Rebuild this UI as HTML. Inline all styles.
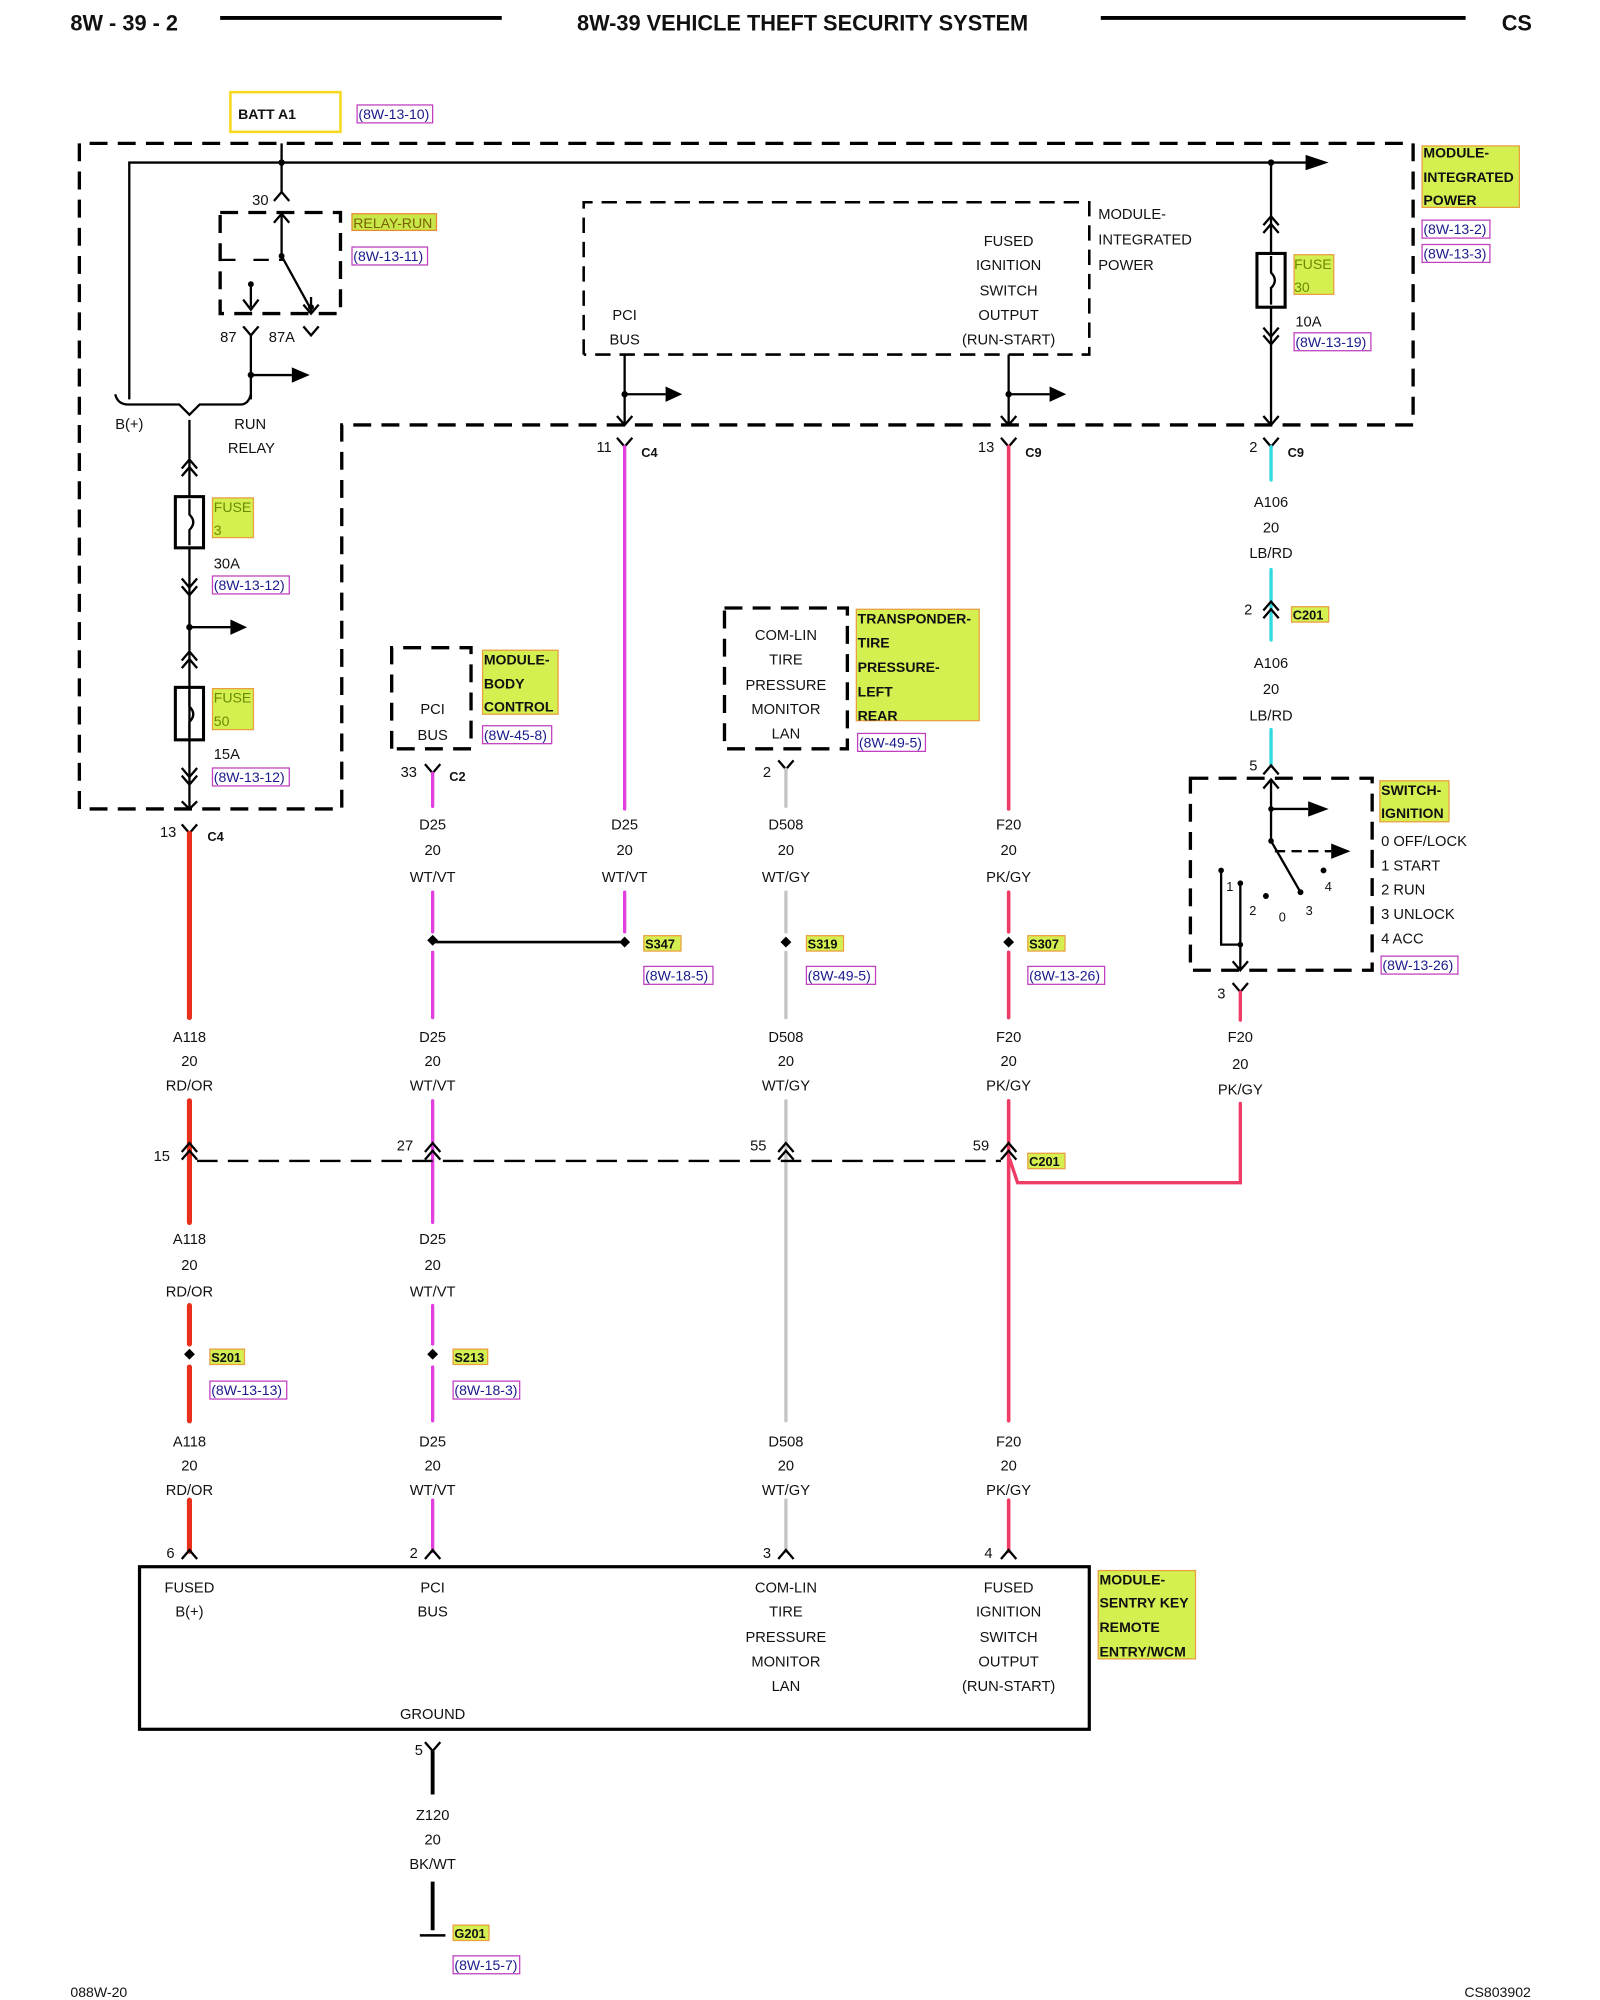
<!DOCTYPE html>
<html><head><meta charset="utf-8"><style>
html,body{margin:0;padding:0;background:#fff}
svg{display:block}
text{font-family:"Liberation Sans",sans-serif;font-size:11.5px;fill:#111}
.c{text-anchor:middle}
.b{font-weight:bold}
.ref{fill:#1a1a8c;font-size:11px}
.lab{font-weight:bold;font-size:11px}
.fl{fill:#6a8a00;font-size:11px}
</style></head><body>
<svg width="1600" height="2000" viewBox="0 0 1250 1562.5" xmlns="http://www.w3.org/2000/svg">
<text x="55" y="24" class="b" style="font-size:17px">8W - 39 - 2</text>
<line x1="172" y1="14" x2="392" y2="14" stroke="#000" stroke-width="3"/>
<text x="627" y="24" class="b c" style="font-size:17px">8W-39 VEHICLE THEFT SECURITY SYSTEM</text>
<line x1="860" y1="14" x2="1145" y2="14" stroke="#000" stroke-width="3"/>
<text x="1185" y="24" class="b c" style="font-size:17px">CS</text>

<rect x="180" y="72" width="86" height="31" fill="none" stroke="#f5d820" stroke-width="2"/>
<text x="186" y="93" class="b" style="font-size:11px">BATT A1</text>
<rect x="279" y="82" width="59" height="14" fill="none" stroke="#c040c0"/><text x="280" y="93" class="ref">(8W-13-10)</text>

<g fill="none" stroke="#000">
<path d="M62,632 V112 H1104 V332 H267 V632 Z" stroke-width="2.6" stroke-dasharray="14,8"/>
<path d="M456,277 V158 H851 V277 H456" stroke-width="2" stroke-dasharray="12,7"/>
<rect x="172" y="166" width="94" height="79" stroke-width="2.6" stroke-dasharray="14,8"/>
<path d="M220,112 V150 M101,312 V127 H1022" stroke-width="1.8"/>
</g>
<polygon points="1020,121 1038,127 1020,133" fill="#000"/>
<circle cx="220" cy="127" r="2.5"/><circle cx="993" cy="127" r="2.5"/>

<g fill="none" stroke="#000" stroke-width="1.8">
<path d="M214,157 L220,150 L226,157"/>
<path d="M220,166 V200 L242,240"/>
<path d="M214,174 L220,167 L226,174"/>
<path d="M172,203 H186 M198,203 H222" stroke-dasharray="12,8"/>
<path d="M196,222 V240 M190,234 L196,242 L202,234"/>
<path d="M243,232 V245 M237,238 L243,245 L249,238"/>
<path d="M190,255 L196,262 L202,255 M196,262 V312"/>
<path d="M237,255 L243,262 L249,255"/>
<path d="M196,293 H228"/>
<path d="M90,308 Q92,316 100,316 H140 L148,324 L156,316 H188 Q194,316 196,308"/>
<path d="M148,328 V388 M148,428 V632"/>
<path d="M142,366 L148,359 L154,366 M142,372 L148,365 L154,372"/>
<rect x="137" y="388" width="22" height="40" stroke-width="2.4"/>
<path d="M148,390 V402 Q154,408 148,414 V426"/>
<path d="M142,452 L148,459 L154,452 M142,458 L148,465 L154,458"/>
<path d="M148,490 H180"/>
<path d="M142,516 L148,509 L154,516 M142,522 L148,515 L154,522"/>
<rect x="137" y="537" width="22" height="41" stroke-width="2.4"/>
<path d="M148,539 V552 Q154,558 148,564 V576"/>
<path d="M142,600 L148,607 L154,600 M142,606 L148,613 L154,606"/>
<path d="M142,626 L148,632 L154,626"/>
<path d="M488,277 V332 M488,308 H520 M482,325 L488,332 L494,325"/>
<path d="M788,277 V332 M788,308 H820 M782,325 L788,332 L794,325"/>
<path d="M993,127 V198 M993,240 V332"/>
<path d="M987,176 L993,169 L999,176 M987,182 L993,175 L999,182"/>
<rect x="982" y="198" width="22" height="42" stroke-width="2.4"/>
<path d="M993,200 V213 Q999,219 993,225 V238"/>
<path d="M987,256 L993,263 L999,256 M987,262 L993,269 L999,262"/>
<path d="M987,325 L993,332 L999,325"/>
</g>
<polygon points="228,287 242,293 228,299" fill="#000"/>
<polygon points="180,484 193,490 180,496" fill="#000"/>
<polygon points="520,302 533,308 520,314" fill="#000"/>
<polygon points="820,302 833,308 820,314" fill="#000"/>
<circle cx="196" cy="293" r="2.5"/><circle cx="148" cy="490" r="2.5"/>
<circle cx="488" cy="308" r="2.5"/><circle cx="788" cy="308" r="2.5"/>
<circle cx="220" cy="200" r="2.3"/><circle cx="243" cy="240" r="2.3"/><circle cx="196" cy="222" r="2.3"/>

<rect x="275" y="167" width="66" height="13" fill="#c8e84a" stroke="#e88a30"/><text x="276" y="178" class="fl" style="fill:#7a6000">RELAY-RUN</text>
<rect x="275" y="193" width="59" height="14" fill="none" stroke="#c040c0"/><text x="276" y="204" class="ref">(8W-13-11)</text>
<text x="197" y="160">30</text>
<text x="172" y="267">87</text><text x="210" y="267">87A</text>
<text x="90" y="335">B(+)</text><text x="183" y="335">RUN</text><text x="178" y="354">RELAY</text>
<rect x="166" y="389" width="32" height="31" fill="#d4f050" stroke="#e8a040"/><text x="167" y="400" class="fl">FUSE</text><text x="167" y="418" class="fl">3</text>
<text x="167" y="444">30A</text>
<rect x="166" y="450" width="60" height="14" fill="none" stroke="#c040c0"/><text x="167" y="461" class="ref">(8W-13-12)</text>
<rect x="166" y="538" width="32" height="32" fill="#d4f050" stroke="#e8a040"/><text x="167" y="549" class="fl">FUSE</text><text x="167" y="567" class="fl">50</text>
<text x="167" y="593">15A</text>
<rect x="166" y="600" width="60" height="14" fill="none" stroke="#c040c0"/><text x="167" y="611" class="ref">(8W-13-12)</text>

<text x="488" y="250" class="c">PCI</text><text x="488" y="269" class="c">BUS</text>
<text x="788" y="192" class="c">FUSED</text><text x="788" y="211" class="c">IGNITION</text><text x="788" y="231" class="c">SWITCH</text><text x="788" y="250" class="c">OUTPUT</text><text x="788" y="269" class="c">(RUN-START)</text>
<text x="858" y="171">MODULE-</text><text x="858" y="191">INTEGRATED</text><text x="858" y="211">POWER</text>
<rect x="1011" y="199" width="31" height="31" fill="#d4f050" stroke="#e8a040"/><text x="1011" y="210" class="fl">FUSE</text><text x="1011" y="228" class="fl">30</text>
<text x="1012" y="255">10A</text>
<rect x="1011" y="260" width="60" height="14" fill="none" stroke="#c040c0"/><text x="1012" y="271" class="ref">(8W-13-19)</text>
<rect x="1111" y="114" width="76" height="48" fill="#d4f050" stroke="#e8a040"/>
<text x="1112" y="123" class="lab">MODULE-</text><text x="1112" y="142" class="lab">INTEGRATED</text><text x="1112" y="160" class="lab">POWER</text>
<rect x="1111" y="172" width="53" height="14" fill="none" stroke="#c040c0"/><text x="1112" y="183" class="ref">(8W-13-2)</text>
<rect x="1111" y="191" width="53" height="14" fill="none" stroke="#c040c0"/><text x="1112" y="202" class="ref">(8W-13-3)</text>

<g fill="none" stroke="#000" stroke-width="1.8">
<path d="M142,644 L148,651 L154,644 M482,342 L488,349 L494,342 M782,342 L788,349 L794,342 M987,342 L993,349 L999,342"/>
<path d="M332,597 L338,604 L344,597 M608,594 L614,601 L620,594 M963,768 L969,775 L975,768"/>
</g>
<text x="125" y="654">13</text><text x="162" y="657" class="b" style="font-size:10px">C4</text>
<text x="466" y="353">11</text><text x="501" y="357" class="b" style="font-size:10px">C4</text>
<text x="764" y="353">13</text><text x="801" y="357" class="b" style="font-size:10px">C9</text>
<text x="976" y="353">2</text><text x="1006" y="357" class="b" style="font-size:10px">C9</text>

<g fill="none" stroke-linecap="round">
<path d="M148,651 V795 M148,860 V955 M148,1020 V1050 M148,1068 V1110 M148,1172 V1212" stroke="#e8301c" stroke-width="4"/>
<path d="M338,604 V630 M338,697 V728 M338,744 V795 M338,860 V955 M338,1020 V1050 M338,1068 V1110 M338,1172 V1212" stroke="#e040e0" stroke-width="2.6"/>
<path d="M488,349 V632 M488,697 V728" stroke="#e040e0" stroke-width="2.6"/>
<path d="M614,601 V630 M614,697 V728 M614,744 V795 M614,860 V1110 M614,1172 V1212" stroke="#c4c4c4" stroke-width="2.6"/>
<path d="M788,349 V632 M788,697 V728 M788,744 V795 M788,860 V1110 M788,1172 V1212" stroke="#ee3c64" stroke-width="2.8"/>
<path d="M969,775 V797 M969,862 V924 H795 L789,906" stroke="#ee3c64" stroke-width="2.6"/>
<path d="M993,349 V375 M993,445 V500 M993,570 V598" stroke="#30d8e0" stroke-width="2.6"/>
</g>
<path d="M987,477 L993,470 L999,477 M987,483 L993,476 L999,483 M987,605 L993,598 L999,605" fill="none" stroke="#000" stroke-width="1.8"/>
<text x="993" y="396" class="c">A106</text><text x="993" y="416" class="c">20</text><text x="993" y="436" class="c">LB/RD</text>
<text x="972" y="480">2</text>
<rect x="1009" y="474" width="29" height="12" fill="#d4f050" stroke="#e8a040"/><text x="1010" y="484" class="lab" style="font-size:10px">C201</text>
<text x="993" y="522" class="c">A106</text><text x="993" y="542" class="c">20</text><text x="993" y="563" class="c">LB/RD</text>
<text x="976" y="602">5</text>

<rect x="930" y="608" width="142" height="150" fill="none" stroke="#000" stroke-width="2.6" stroke-dasharray="14,8"/>
<g fill="none" stroke="#000" stroke-width="1.8">
<path d="M987,616 L993,609 L999,616 M993,609 V657 L1016,697 M993,632 H1022" />
<path d="M996,665 H1040" stroke-dasharray="8,5"/>
<path d="M954,680 V738 H969 M969,690 V758 M963,751 L969,758 L975,751"/>
</g>
<polygon points="1022,626 1038,632 1022,638" fill="#000"/>
<polygon points="1040,659 1055,665 1040,671" fill="#000"/>
<circle cx="993" cy="632" r="2.2"/><circle cx="993" cy="657" r="2.2"/><circle cx="1016" cy="697" r="2.3"/>
<circle cx="1034" cy="680" r="2.3"/><circle cx="989" cy="700" r="2.3"/><circle cx="954" cy="680" r="2.2"/><circle cx="969" cy="690" r="2.2"/><circle cx="969" cy="738" r="2.2"/>
<text x="958" y="696" style="font-size:10px">1</text><text x="976" y="715" style="font-size:10px">2</text><text x="999" y="720" style="font-size:10px">0</text><text x="1020" y="715" style="font-size:10px">3</text><text x="1035" y="696" style="font-size:10px">4</text>
<rect x="1078" y="610" width="54" height="32" fill="#d4f050" stroke="#e8a040"/><text x="1079" y="621" class="lab">SWITCH-</text><text x="1079" y="639" class="lab">IGNITION</text>
<text x="1079" y="661">0 OFF/LOCK</text><text x="1079" y="680">1 START</text><text x="1079" y="699">2 RUN</text><text x="1079" y="718">3 UNLOCK</text><text x="1079" y="737">4 ACC</text>
<rect x="1079" y="747" width="60" height="14" fill="none" stroke="#c040c0"/><text x="1080" y="758" class="ref">(8W-13-26)</text>
<text x="951" y="780">3</text>
<text x="969" y="814" class="c">F20</text><text x="969" y="835" class="c">20</text><text x="969" y="855" class="c">PK/GY</text>

<path d="M306,585 V506 H368 V585 H306" fill="none" stroke="#000" stroke-width="2.6" stroke-dasharray="14,8"/>
<text x="338" y="558" class="c">PCI</text><text x="338" y="578" class="c">BUS</text>
<rect x="377" y="508" width="59" height="50" fill="#d4f050" stroke="#e8a040"/><text x="378" y="519" class="lab">MODULE-</text><text x="378" y="538" class="lab">BODY</text><text x="378" y="556" class="lab">CONTROL</text>
<rect x="377" y="567" width="54" height="14" fill="none" stroke="#c040c0"/><text x="378" y="578" class="ref">(8W-45-8)</text>
<text x="313" y="607">33</text><text x="351" y="610" class="b" style="font-size:10px">C2</text>

<rect x="566" y="475" width="96" height="110" fill="none" stroke="#000" stroke-width="2.6" stroke-dasharray="14,8"/>
<text x="614" y="500" class="c">COM-LIN</text><text x="614" y="519" class="c">TIRE</text><text x="614" y="539" class="c">PRESSURE</text><text x="614" y="558" class="c">MONITOR</text><text x="614" y="577" class="c">LAN</text>
<rect x="669" y="476" width="96" height="87" fill="#d4f050" stroke="#e8a040"/>
<text x="670" y="487" class="lab">TRANSPONDER-</text><text x="670" y="506" class="lab">TIRE</text><text x="670" y="525" class="lab">PRESSURE-</text><text x="670" y="544" class="lab">LEFT</text><text x="670" y="563" class="lab">REAR</text>
<rect x="670" y="573" width="53" height="14" fill="none" stroke="#c040c0"/><text x="671" y="584" class="ref">(8W-49-5)</text>
<text x="596" y="607">2</text>

<text x="338" y="648" class="c">D25</text><text x="338" y="668" class="c">20</text><text x="338" y="689" class="c">WT/VT</text>
<text x="488" y="648" class="c">D25</text><text x="488" y="668" class="c">20</text><text x="488" y="689" class="c">WT/VT</text>
<text x="614" y="648" class="c">D508</text><text x="614" y="668" class="c">20</text><text x="614" y="689" class="c">WT/GY</text>
<text x="788" y="648" class="c">F20</text><text x="788" y="668" class="c">20</text><text x="788" y="689" class="c">PK/GY</text>

<line x1="338" y1="736" x2="488" y2="736" stroke="#000" stroke-width="2"/>
<g fill="#000">
<rect x="334" y="732" width="6" height="6" transform="rotate(45 338 736)"/>
<rect x="485" y="733" width="6" height="6" transform="rotate(45 488 736)"/>
<rect x="611" y="733" width="6" height="6" transform="rotate(45 614 736)"/>
<rect x="785" y="733" width="6" height="6" transform="rotate(45 788 736)"/>
<rect x="145" y="1055" width="6" height="6" transform="rotate(45 148 1058)"/>
<rect x="335" y="1055" width="6" height="6" transform="rotate(45 338 1058)"/>
</g>
<rect x="503" y="731" width="29" height="12" fill="#d4f050" stroke="#e8a040"/><text x="504" y="741" class="lab" style="font-size:10px">S347</text>
<rect x="503" y="755" width="54" height="14" fill="none" stroke="#c040c0"/><text x="504" y="766" class="ref">(8W-18-5)</text>
<rect x="630" y="731" width="29" height="12" fill="#d4f050" stroke="#e8a040"/><text x="631" y="741" class="lab" style="font-size:10px">S319</text>
<rect x="630" y="755" width="54" height="14" fill="none" stroke="#c040c0"/><text x="631" y="766" class="ref">(8W-49-5)</text>
<rect x="803" y="731" width="29" height="12" fill="#d4f050" stroke="#e8a040"/><text x="804" y="741" class="lab" style="font-size:10px">S307</text>
<rect x="803" y="755" width="60" height="14" fill="none" stroke="#c040c0"/><text x="804" y="766" class="ref">(8W-13-26)</text>

<text x="148" y="814" class="c">A118</text><text x="148" y="833" class="c">20</text><text x="148" y="852" class="c">RD/OR</text>
<text x="338" y="814" class="c">D25</text><text x="338" y="833" class="c">20</text><text x="338" y="852" class="c">WT/VT</text>
<text x="614" y="814" class="c">D508</text><text x="614" y="833" class="c">20</text><text x="614" y="852" class="c">WT/GY</text>
<text x="788" y="814" class="c">F20</text><text x="788" y="833" class="c">20</text><text x="788" y="852" class="c">PK/GY</text>

<line x1="154" y1="907" x2="782" y2="907" stroke="#000" stroke-width="1.8" stroke-dasharray="16,8"/>
<g fill="none" stroke="#000" stroke-width="1.8">
<path d="M142,900 L148,893 L154,900 M142,906 L148,899 L154,906"/>
<path d="M332,900 L338,893 L344,900 M332,906 L338,899 L344,906"/>
<path d="M608,900 L614,893 L620,900 M608,906 L614,899 L620,906"/>
<path d="M782,900 L788,893 L794,900 M782,906 L788,899 L794,906"/>
</g>
<text x="120" y="907">15</text><text x="310" y="899">27</text><text x="586" y="899">55</text><text x="760" y="899">59</text>
<rect x="803" y="901" width="29" height="12" fill="#d4f050" stroke="#e8a040"/><text x="804" y="911" class="lab" style="font-size:10px">C201</text>

<text x="148" y="972" class="c">A118</text><text x="148" y="992" class="c">20</text><text x="148" y="1013" class="c">RD/OR</text>
<text x="338" y="972" class="c">D25</text><text x="338" y="992" class="c">20</text><text x="338" y="1013" class="c">WT/VT</text>
<rect x="164" y="1054" width="27" height="12" fill="#d4f050" stroke="#e8a040"/><text x="165" y="1064" class="lab" style="font-size:10px">S201</text>
<rect x="164" y="1079" width="60" height="14" fill="none" stroke="#c040c0"/><text x="165" y="1090" class="ref">(8W-13-13)</text>
<rect x="354" y="1054" width="27" height="12" fill="#d4f050" stroke="#e8a040"/><text x="355" y="1064" class="lab" style="font-size:10px">S213</text>
<rect x="354" y="1079" width="52" height="14" fill="none" stroke="#c040c0"/><text x="355" y="1090" class="ref">(8W-18-3)</text>

<text x="148" y="1130" class="c">A118</text><text x="148" y="1149" class="c">20</text><text x="148" y="1168" class="c">RD/OR</text>
<text x="338" y="1130" class="c">D25</text><text x="338" y="1149" class="c">20</text><text x="338" y="1168" class="c">WT/VT</text>
<text x="614" y="1130" class="c">D508</text><text x="614" y="1149" class="c">20</text><text x="614" y="1168" class="c">WT/GY</text>
<text x="788" y="1130" class="c">F20</text><text x="788" y="1149" class="c">20</text><text x="788" y="1168" class="c">PK/GY</text>

<g fill="none" stroke="#000" stroke-width="1.8">
<path d="M142,1218 L148,1211 L154,1218 M332,1218 L338,1211 L344,1218 M608,1218 L614,1211 L620,1218 M782,1218 L788,1211 L794,1218"/>
</g>
<text x="130" y="1217">6</text><text x="320" y="1217">2</text><text x="596" y="1217">3</text><text x="769" y="1217">4</text>

<rect x="109" y="1224" width="742" height="127" fill="none" stroke="#000" stroke-width="2.5"/>
<text x="148" y="1244" class="c">FUSED</text><text x="148" y="1263" class="c">B(+)</text>
<text x="338" y="1244" class="c">PCI</text><text x="338" y="1263" class="c">BUS</text>
<text x="614" y="1244" class="c">COM-LIN</text><text x="614" y="1263" class="c">TIRE</text><text x="614" y="1283" class="c">PRESSURE</text><text x="614" y="1302" class="c">MONITOR</text><text x="614" y="1321" class="c">LAN</text>
<text x="788" y="1244" class="c">FUSED</text><text x="788" y="1263" class="c">IGNITION</text><text x="788" y="1283" class="c">SWITCH</text><text x="788" y="1302" class="c">OUTPUT</text><text x="788" y="1321" class="c">(RUN-START)</text>
<text x="338" y="1343" class="c">GROUND</text>
<rect x="858" y="1227" width="76" height="69" fill="#d4f050" stroke="#e8a040"/>
<text x="859" y="1238" class="lab">MODULE-</text><text x="859" y="1256" class="lab">SENTRY KEY</text><text x="859" y="1275" class="lab">REMOTE</text><text x="859" y="1294" class="lab">ENTRY/WCM</text>

<g fill="none" stroke="#000">
<path d="M332,1361 L338,1368 L344,1361" stroke-width="1.8"/>
<path d="M338,1368 V1402 M338,1470 V1508" stroke-width="3"/>
<path d="M328,1512 H348" stroke-width="2"/>
</g>
<text x="324" y="1371">5</text>
<text x="338" y="1422" class="c">Z120</text><text x="338" y="1441" class="c">20</text><text x="338" y="1460" class="c">BK/WT</text>
<rect x="354" y="1504" width="28" height="12" fill="#d4f050" stroke="#e8a040"/><text x="355" y="1514" class="lab" style="font-size:10px">G201</text>
<rect x="354" y="1528" width="52" height="14" fill="none" stroke="#c040c0"/><text x="355" y="1539" class="ref">(8W-15-7)</text>

<text x="55" y="1560" style="font-size:11px">088W-20</text>
<text x="1144" y="1560" style="font-size:11px">CS803902</text>
</svg>
</body></html>
